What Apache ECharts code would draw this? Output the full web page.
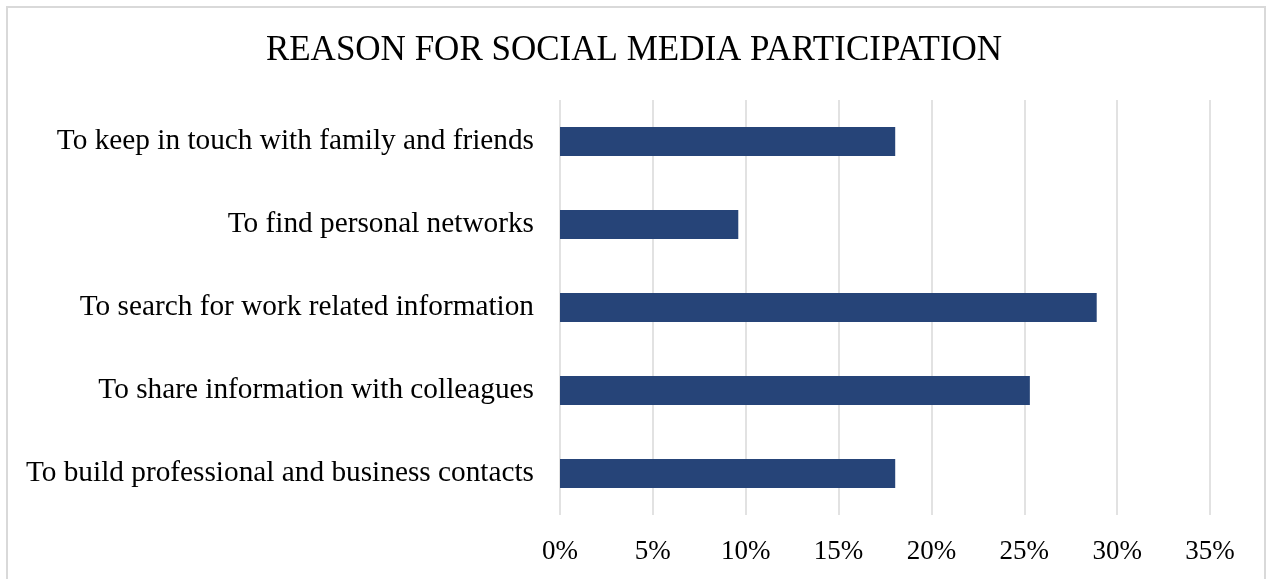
<!DOCTYPE html>
<html>
<head>
<meta charset="utf-8">
<script src="https://cdn.jsdelivr.net/npm/echarts@6/dist/echarts.min.js"></script>
<style>
  html, body { margin: 0; padding: 0; background: #ffffff; }
  #chart { width: 1268px; height: 579px; }
</style>
</head>
<body>
<div id="chart"></div>
<script>
// Reasons, listed top to bottom
const categories = [
  'To keep in touch with family and friends',
  'To find personal networks',
  'To search for work related information',
  'To share information with colleagues',
  'To build professional and business contacts'
];
// Share of respondents (%)
const values = [18.05, 9.6, 28.9, 25.3, 18.05];
const xTicks = [0, 5, 10, 15, 20, 25, 30, 35];

const serif = '"Liberation Serif", "Times New Roman", serif';
const chart = echarts.init(document.getElementById('chart'), null, { renderer: 'canvas' });

chart.setOption({
  backgroundColor: '#ffffff',
  animation: false,
  title: {
    text: 'REASON FOR SOCIAL MEDIA PARTICIPATION',
    left: 'center',
    top: 33,
    padding: [0, 0, 0, 6],
    textStyle: { fontFamily: serif, fontSize: 35, fontWeight: 'normal', color: '#000000' }
  },
  graphic: [{
    type: 'rect',
    shape: { x: 7, y: 7, width: 1258, height: 600 },
    style: { fill: 'none', stroke: '#d9d9d9', lineWidth: 2 },
    silent: true
  }],
  grid: { left: 560, right: 58, top: 100, bottom: 64, containLabel: false },
  xAxis: {
    type: 'value',
    min: xTicks[0],
    max: xTicks[xTicks.length - 1],
    interval: xTicks[1] - xTicks[0],
    axisLine: { show: false },
    axisTick: { show: false },
    splitLine: { show: true, lineStyle: { color: '#d9d9d9', width: 1.5 } },
    axisLabel: {
      formatter: v => v + '%',
      fontFamily: serif,
      fontSize: 27,
      color: '#000000',
      margin: 23
    }
  },
  yAxis: {
    type: 'category',
    data: categories,
    inverse: true,
    axisLine: { show: false },
    axisTick: { show: false },
    splitLine: { show: false },
    axisLabel: {
      fontFamily: serif,
      fontSize: 29.3,
      color: '#000000',
      margin: 26,
      padding: [7, 0, 0, 0]
    }
  },
  series: [{
    type: 'bar',
    data: values,
    barCategoryGap: '65%',
    itemStyle: { color: '#264478' }
  }]
});
</script>
</body>
</html>
